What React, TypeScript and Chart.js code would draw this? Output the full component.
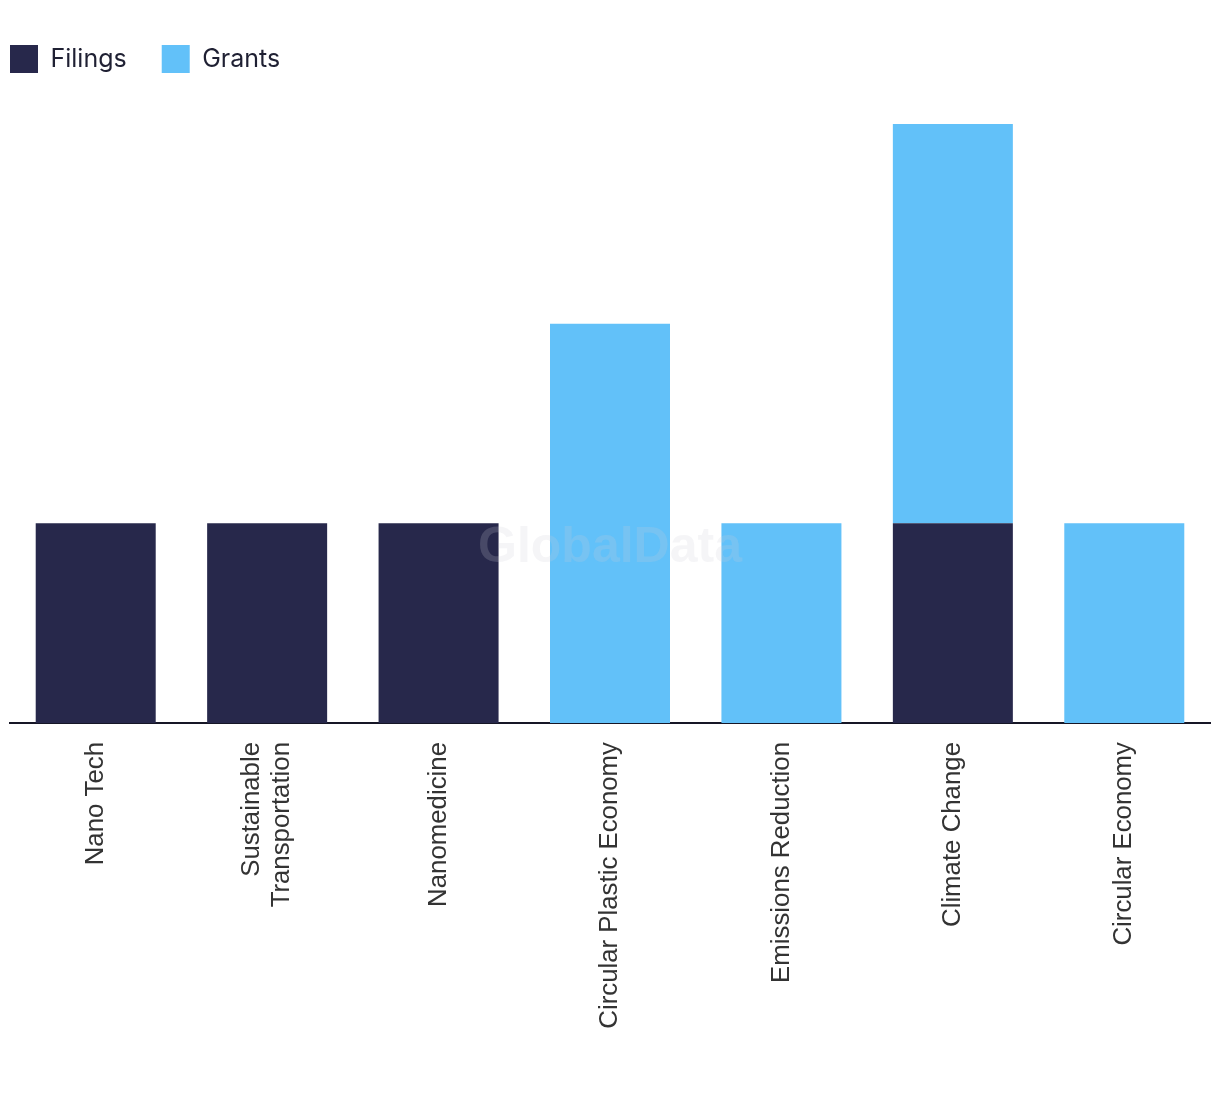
import React, { useEffect, useRef } from 'react';
import { Chart, registerables } from 'chart.js';

Chart.register(...registerables);

const categories: (string | string[])[] = [
  'Nano Tech',
  ['Sustainable', 'Transportation'],
  'Nanomedicine',
  'Circular Plastic Economy',
  'Emissions Reduction',
  'Climate Change',
  'Circular Economy',
];
const seriesNames = ['Filings', 'Grants'];
const filings = [1, 1, 1, 0, 0, 1, 0];
const grants = [0, 0, 0, 2, 1, 2, 1];
const yMax = 3;
const watermarkText = 'GlobalData';

const FILINGS_COLOR = '#27284b';
const GRANTS_COLOR = '#62c1f9';
const LEGEND_PAD = 35;
const TICK_SIZE = 25.8;
const TICK_LH = 1.15;

const legendShift = {
  id: 'legendShift',
  afterLayout(chart: any) {
    const lg = chart.legend;
    if (lg) {
      lg.left = 10 - LEGEND_PAD;
      lg.top = 45 - LEGEND_PAD;
    }
  },
};

// center multi-line rotated tick labels on their category
const centerMultiline = {
  id: 'centerMultiline',
  beforeDraw(chart: any) {
    const sc = chart.scales.x;
    if (!sc) return;
    const items = sc.getLabelItems(chart.chartArea);
    const lh = TICK_SIZE * TICK_LH;
    items.forEach((it: any) => {
      if (Array.isArray(it.label) && !it._centered) {
        it.options.translation[0] -= ((it.label.length - 1) * lh) / 2;
        it._centered = true;
      }
    });
  },
};

const watermark = {
  id: 'watermark',
  afterDatasetsDraw(chart: any) {
    const { ctx, chartArea } = chart;
    ctx.save();
    ctx.font = 'bold 50px "Liberation Sans", Arial, sans-serif';
    ctx.fillStyle = 'rgba(205,205,215,0.2)';
    ctx.textAlign = 'center';
    ctx.textBaseline = 'middle';
    ctx.fillText(watermarkText, (chartArea.left + chartArea.right) / 2, 548);
    ctx.restore();
  },
};

export default function App() {
  const ref = useRef<HTMLCanvasElement>(null);
  useEffect(() => {
    if (!ref.current) return;
    const chart = new Chart(ref.current, {
      type: 'bar',
      data: {
        labels: categories as any,
        datasets: [
          { label: seriesNames[0], data: filings, backgroundColor: FILINGS_COLOR, barPercentage: 0.7, categoryPercentage: 1.0 },
          { label: seriesNames[1], data: grants, backgroundColor: GRANTS_COLOR, barPercentage: 0.7, categoryPercentage: 1.0 },
        ],
      },
      options: {
        animation: false,
        responsive: false,
        layout: { padding: { left: 10, right: 10, top: 51, bottom: 0 } },
        plugins: {
          legend: {
            position: 'top',
            align: 'start',
            labels: {
              boxWidth: 28,
              boxHeight: 28,
              padding: LEGEND_PAD,
              color: '#1f2033',
              font: { family: 'Inter, "Noto Sans", sans-serif', size: 25 },
            },
          },
          tooltip: { enabled: false },
        },
        scales: {
          x: {
            stacked: true,
            grid: { display: false, drawTicks: false },
            border: { display: true, color: '#161626', width: 2 },
            ticks: {
              maxRotation: 90,
              minRotation: 90,
              padding: 19,
              color: '#333333',
              font: { family: '"Liberation Sans", Arial, sans-serif', size: TICK_SIZE, lineHeight: TICK_LH },
            },
            afterFit(scale: any) {
              scale.height = 371;
            },
          },
          y: {
            stacked: true,
            display: false,
            min: 0,
            max: yMax,
          },
        },
      },
      plugins: [legendShift, centerMultiline, watermark],
    });
    return () => chart.destroy();
  }, []);
  return (
    <div style={{ position: 'absolute', left: 0, top: 0, width: 1220, height: 1094, background: '#fff' }}>
      <canvas ref={ref} width={1220} height={1094} />
    </div>
  );
}
